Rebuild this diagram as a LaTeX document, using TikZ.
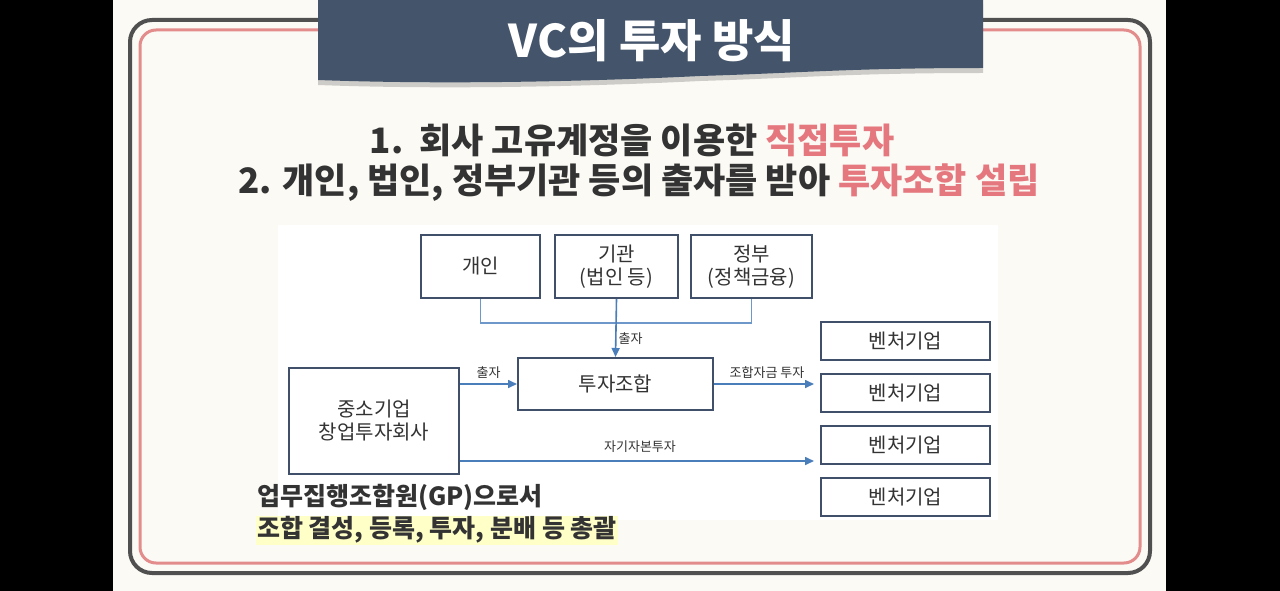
\documentclass[tikz,border=0pt]{standalone}
\usepackage{fontspec}
\setmainfont{Noto Sans CJK KR}
\usepackage{xcolor}
\definecolor{vccream}{HTML}{FBFAF5}
\definecolor{vcbanner}{HTML}{44546A}
\definecolor{vcpink}{HTML}{E5777E}
\definecolor{vcframe}{HTML}{505050}
\definecolor{vcrose}{HTML}{E28C8C}
\definecolor{vcdark}{HTML}{333333}
\definecolor{vcline}{HTML}{40506A}
\definecolor{vcblue}{HTML}{4A7EBB}
\definecolor{vcmark}{HTML}{FFFFC8}
\usetikzlibrary{arrows.meta,positioning}
\newcommand{\hot}[1]{\textcolor{vcpink}{#1}}

\begin{document}
\begin{tikzpicture}[x=1pt,y=-1pt,>={Triangle[length=9pt,width=8pt]},node distance=13pt]
\tikzset{
 box/.style={draw=vcline,line width=2pt,fill=white,align=center,text=vcdark,font=\fontsize{20}{23}\selectfont},
 src/.style={box,minimum height=63pt},
 venture/.style={box,minimum width=169pt,minimum height=38pt},
 flow/.style={->,draw=vcblue,line width=1.6pt},
 feed/.style={draw=vcblue!80!white,line width=1.4pt},
 lbl/.style={text=vcdark,font=\fontsize{13}{15}\selectfont,inner sep=2pt},
 head/.style={text=vcdark,font=\bfseries\fontsize{35}{40}\selectfont,inner sep=0pt},
 note/.style={text=vcdark,font=\bfseries\fontsize{25}{28}\selectfont,inner sep=1pt,anchor=west}
}
\useasboundingbox (0,0) rectangle (1280,591);
\fill[vccream] (0,0) rectangle (1280,591);
\fill[black] (0,0) rectangle (113,591);
\fill[black] (1166,0) rectangle (1280,591);
% frames
\draw[vcframe,line width=4pt,rounded corners=22pt] (130,20) rectangle (1150,573);
\draw[vcrose,line width=3pt,rounded corners=16pt] (140,30) rectangle (1140,563);
% banner
\fill[black,opacity=.18] (318,4) -- (983,4) -- (983,73) .. controls (850,73) and (800,78) .. (700,81) .. controls (600,86) and (450,90) .. (318,85) -- cycle;
\fill[vcbanner] (318,0) -- (983,0) -- (983,68) .. controls (850,68) and (800,73) .. (700,76) .. controls (600,81) and (450,85) .. (318,80) -- cycle;
\node[text=white,font=\bfseries\fontsize{45}{50}\selectfont] (title) at (652,41) {VC의 투자 방식};
% headlines
\node[head] (line1) at (632,140) {1.\ \ 회사 고유계정을 이용한 \hot{직접투자}};
\node[head] (line2) at (639,183) {2. 개인, 법인, 정부기관 등의 출자를 받아 \hot{투자조합 설립}};
% diagram
\fill[white] (278,225) rectangle (998,520);
\node[src,minimum width=119pt] (gaein) at (480.5,266.5) {개인};
\node[src,minimum width=123pt,right=13pt of gaein] (gigwan) {기관\\(법인 등)};
\node[src,minimum width=121pt,right=11pt of gigwan] (jeongbu) {정부\\(정책금융)};
\node[box,minimum width=195pt,minimum height=52pt] (johap) at (615.5,384) {투자조합};
\node[box,minimum width=170pt,minimum height=106pt] (changtu) at (374,421) {중소기업\\창업투자회사};
\node[venture] (v1) at (905.5,341) {벤처기업};
\node[venture,below=12pt of v1] (v2) {벤처기업};
\node[venture,below=12pt of v2] (v3) {벤처기업};
\node[venture,below=12pt of v3] (v4) {벤처기업};
\coordinate (split) at ([yshift=14pt]changtu.south east);
\draw[feed] (gaein.south) -- ++(0,24) -| (jeongbu.south);
\draw[flow] (gigwan.south) -- (johap.north) node[lbl,pos=.68,right] {출자};
\draw[flow] (changtu.east |- johap) -- (johap.west) node[lbl,midway,above=3pt] {출자};
\draw[flow,shorten >=6pt] (johap.east) -- (johap.east -| v2.west) node[lbl,midway,above=3pt] {조합자금 투자};
\draw[flow,shorten >=6pt] (split) -- (split -| v3.west) node[lbl,midway,above=6pt] {자기자본투자};
% GP note
\node[note] (gp1) at (256,497) {업무집행조합원(GP)으로서};
\node[note,fill=vcmark,below=4pt of gp1.south west,anchor=north west] (gp2) {조합 결성, 등록, 투자, 분배 등 총괄};
\end{tikzpicture}
\end{document}
